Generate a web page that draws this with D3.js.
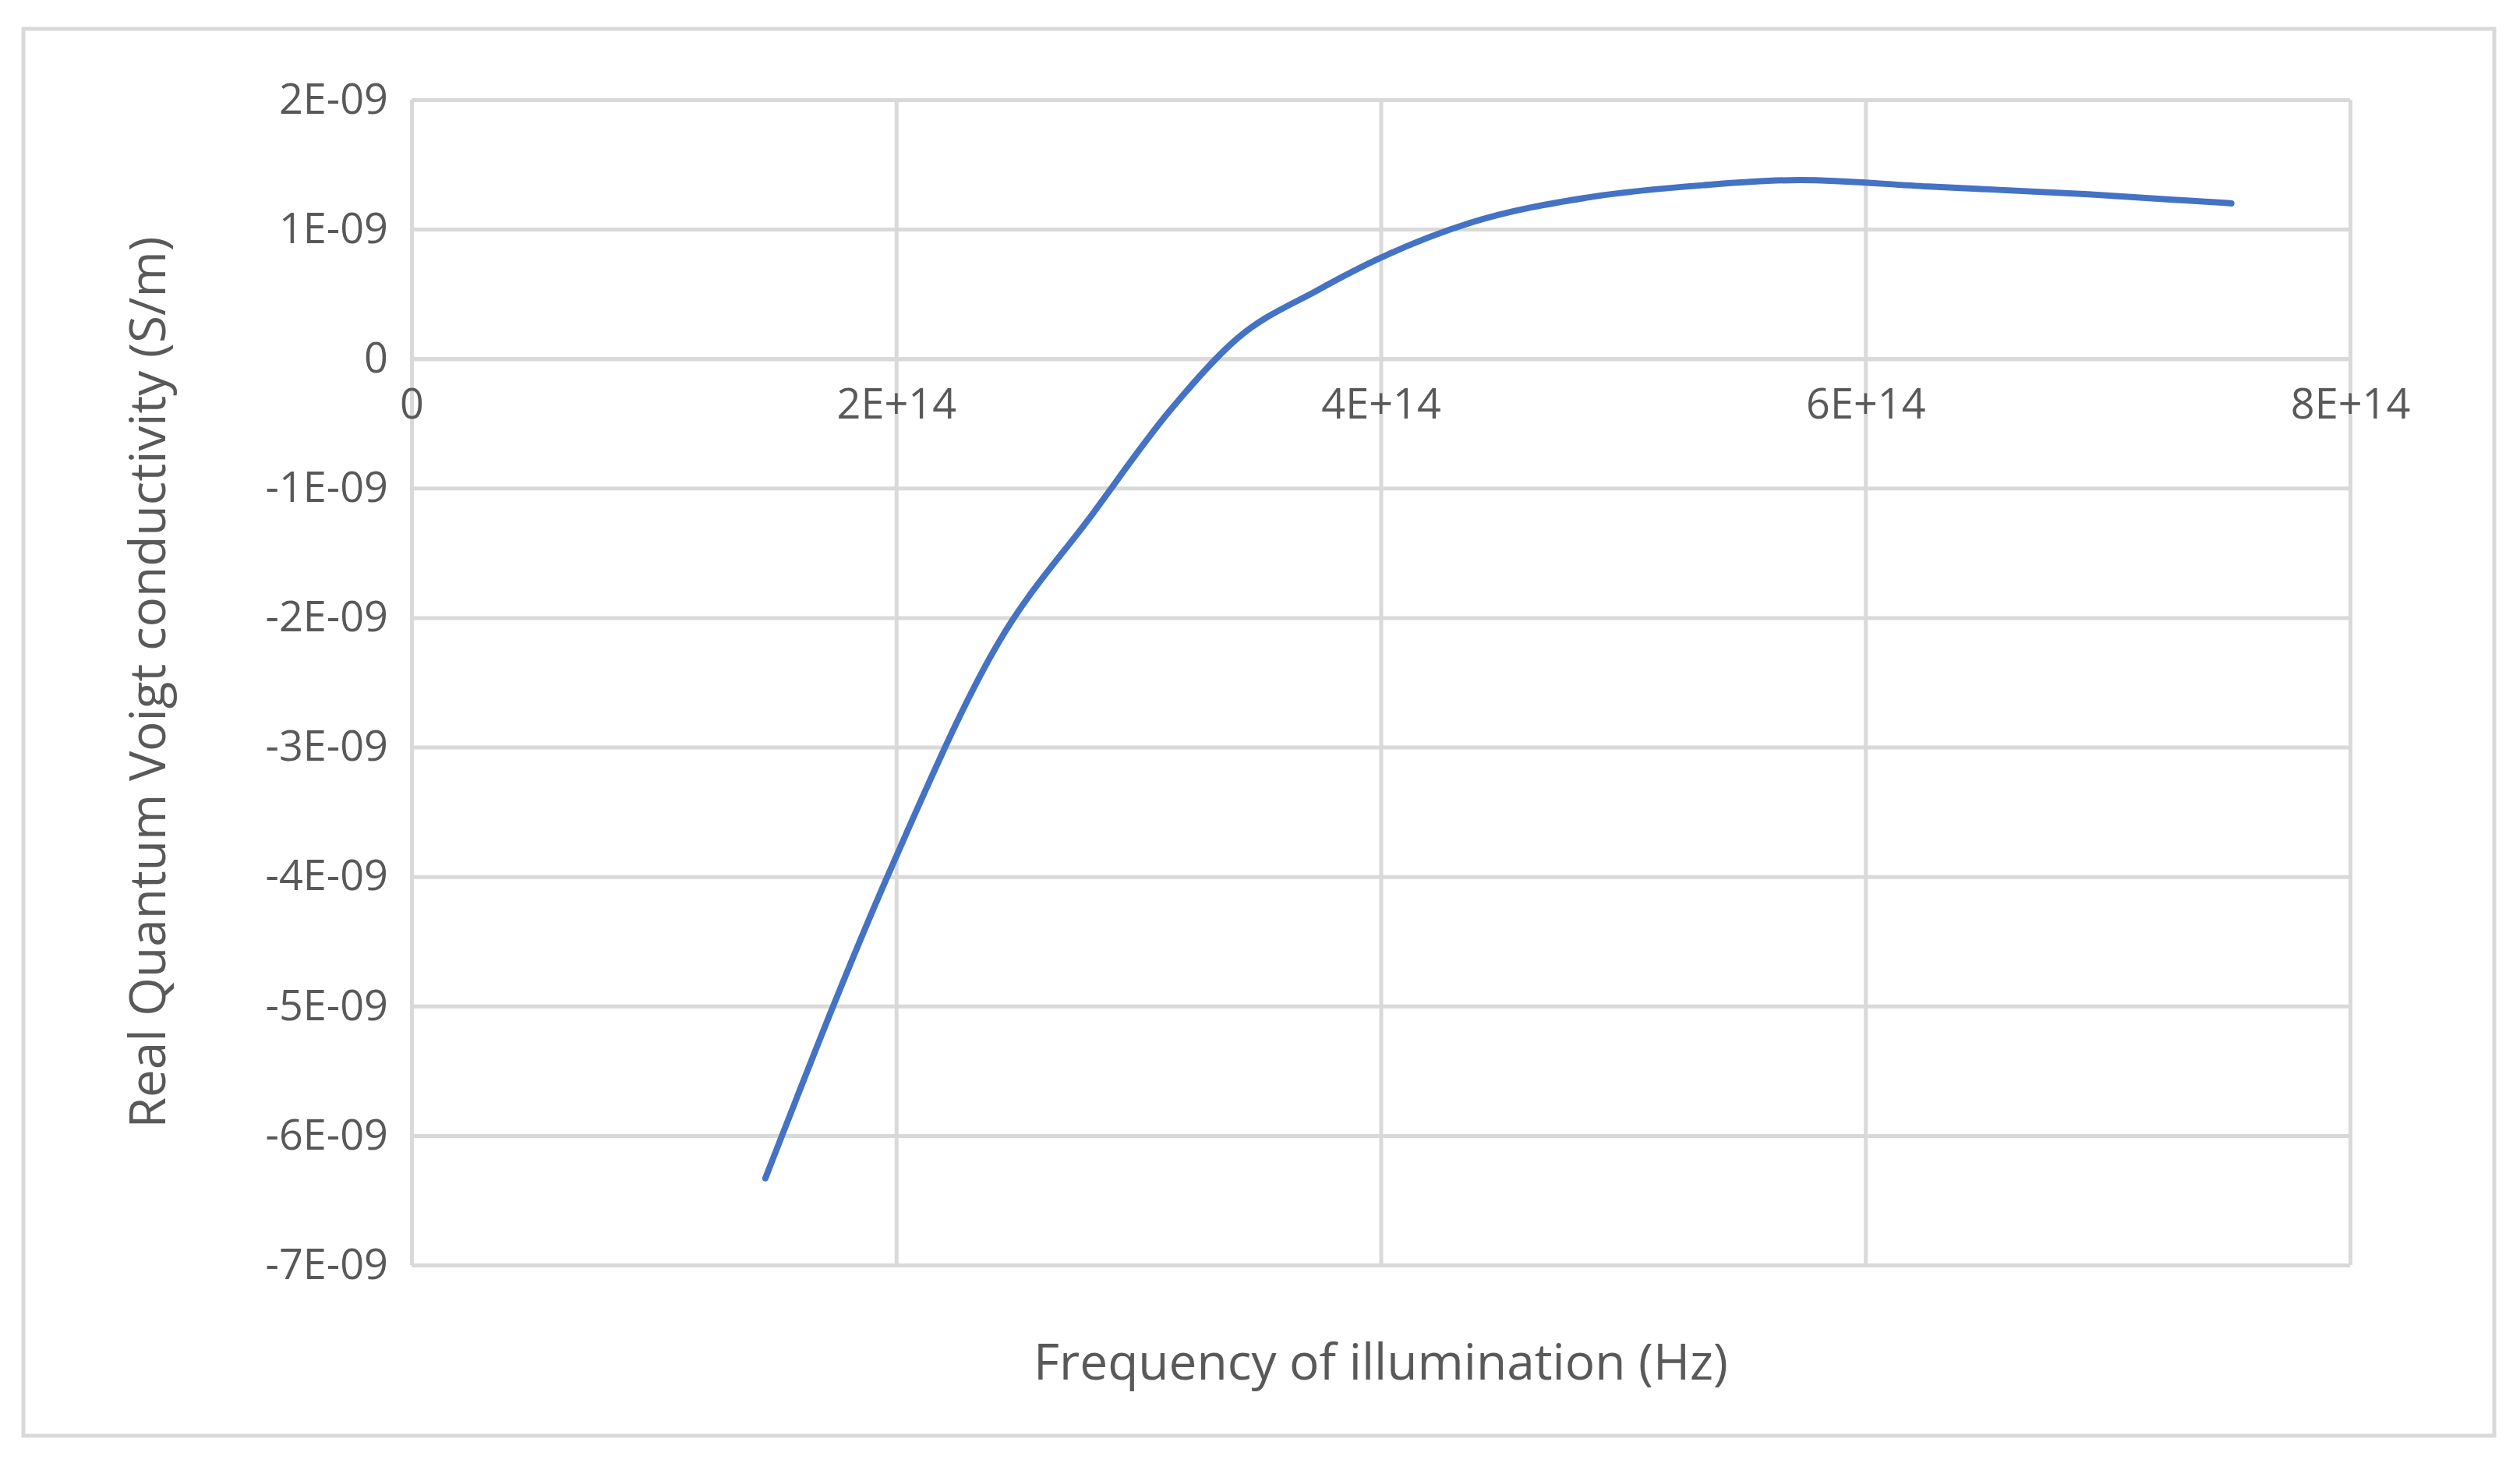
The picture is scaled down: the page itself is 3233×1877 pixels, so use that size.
<!DOCTYPE html>
<html>
<head>
<meta charset="utf-8">
<script src="https://cdn.jsdelivr.net/npm/d3@7"></script>
<style>
  body { margin: 0; background: #fff; }
  text { font-family: "Open Sans", "Liberation Sans", sans-serif; fill: #595959; }
</style>
</head>
<body>
<div id="chart"></div>
<script>
// Data
const freq = [1.46e14, 1.98e14, 2.42e14, 2.81e14, 3.13e14, 3.41e14, 3.74e14, 4.0e14,
              4.37e14, 4.87e14, 5.33e14, 5.73e14, 6.26e14, 6.92e14, 7.51e14];
const sigma = [-6.33e-9, -3.93e-9, -2.2e-9, -1.2e-9, -0.4e-9, 0.16e-9, 0.53e-9, 0.78e-9,
               1.05e-9, 1.25e-9, 1.34e-9, 1.38e-9, 1.33e-9, 1.27e-9, 1.2e-9];
const xTicks = [0, 2e14, 4e14, 6e14, 8e14];
const xTickLabels = ["0", "2E+14", "4E+14", "6E+14", "8E+14"];
const yTicks = [2e-9, 1e-9, 0, -1e-9, -2e-9, -3e-9, -4e-9, -5e-9, -6e-9, -7e-9];
const yTickLabels = ["2E-09", "1E-09", "0", "-1E-09", "-2E-09", "-3E-09", "-4E-09", "-5E-09", "-6E-09", "-7E-09"];

const [w, h] = [3233, 1877];
const padL = 528, padR = 3015, padT = 128, padB = 1623;
const gridColor = "#d9d9d9";
const lineColor = "#4472c4";

const svg = d3.select("#chart").append("svg").attr("width", w).attr("height", h);

// outer border
svg.append("rect").attr("x", 30).attr("y", 37).attr("width", 3170).attr("height", 1805)
  .attr("fill", "none").attr("stroke", gridColor).attr("stroke-width", 5);

const x = d3.scaleLinear().domain([0, 8e14]).range([padL, padR]);
const y = d3.scaleLinear().domain([-7e-9, 2e-9]).range([padB, padT]);

// horizontal grid + y labels
const yAxis = d3.axisLeft(y).tickValues(yTicks)
  .tickSize(-(padR - padL)).tickPadding(30)
  .tickFormat((d, i) => yTickLabels[i]);
const gy = svg.append("g").attr("transform", `translate(${padL},0)`).call(yAxis);
gy.select(".domain").remove();
gy.selectAll("line").attr("stroke", gridColor).attr("stroke-width", 5);
gy.selectAll("text").attr("font-size", 54).attr("fill", "#595959");

// vertical grid
const xAxisGrid = d3.axisBottom(x).tickValues(xTicks).tickSize(-(padB - padT)).tickFormat("");
const gxg = svg.append("g").attr("transform", `translate(0,${padB})`).call(xAxisGrid);
gxg.select(".domain").remove();
gxg.selectAll("line").attr("stroke", gridColor).attr("stroke-width", 5);

// x labels hanging off zero line
const xAxis = d3.axisBottom(x).tickValues(xTicks).tickSize(0).tickPadding(38)
  .tickFormat((d, i) => xTickLabels[i]);
const gx = svg.append("g").attr("transform", `translate(0,${y(0)})`).call(xAxis);
gx.select(".domain").attr("stroke", gridColor).attr("stroke-width", 5);
gx.selectAll("text").attr("font-size", 54).attr("fill", "#595959");

// curve
const pts = freq.map((f, i) => [f, sigma[i]]);
svg.append("path").datum(pts)
  .attr("fill", "none").attr("stroke", lineColor).attr("stroke-width", 8)
  .attr("stroke-linecap", "round")
  .attr("d", d3.line().x(d => x(d[0])).y(d => y(d[1])).curve(d3.curveMonotoneX));

// axis titles
svg.append("text").attr("x", (padL + padR) / 2).attr("y", 1770)
  .attr("text-anchor", "middle").attr("font-size", 64)
  .text("Frequency of illumination (Hz)");
svg.append("text").attr("transform", `translate(212,${(padT + padB) / 2}) rotate(-90)`)
  .attr("text-anchor", "middle").attr("font-size", 64)
  .text("Real Quantum Voigt conductivity (S/m)");
</script>
</body>
</html>
